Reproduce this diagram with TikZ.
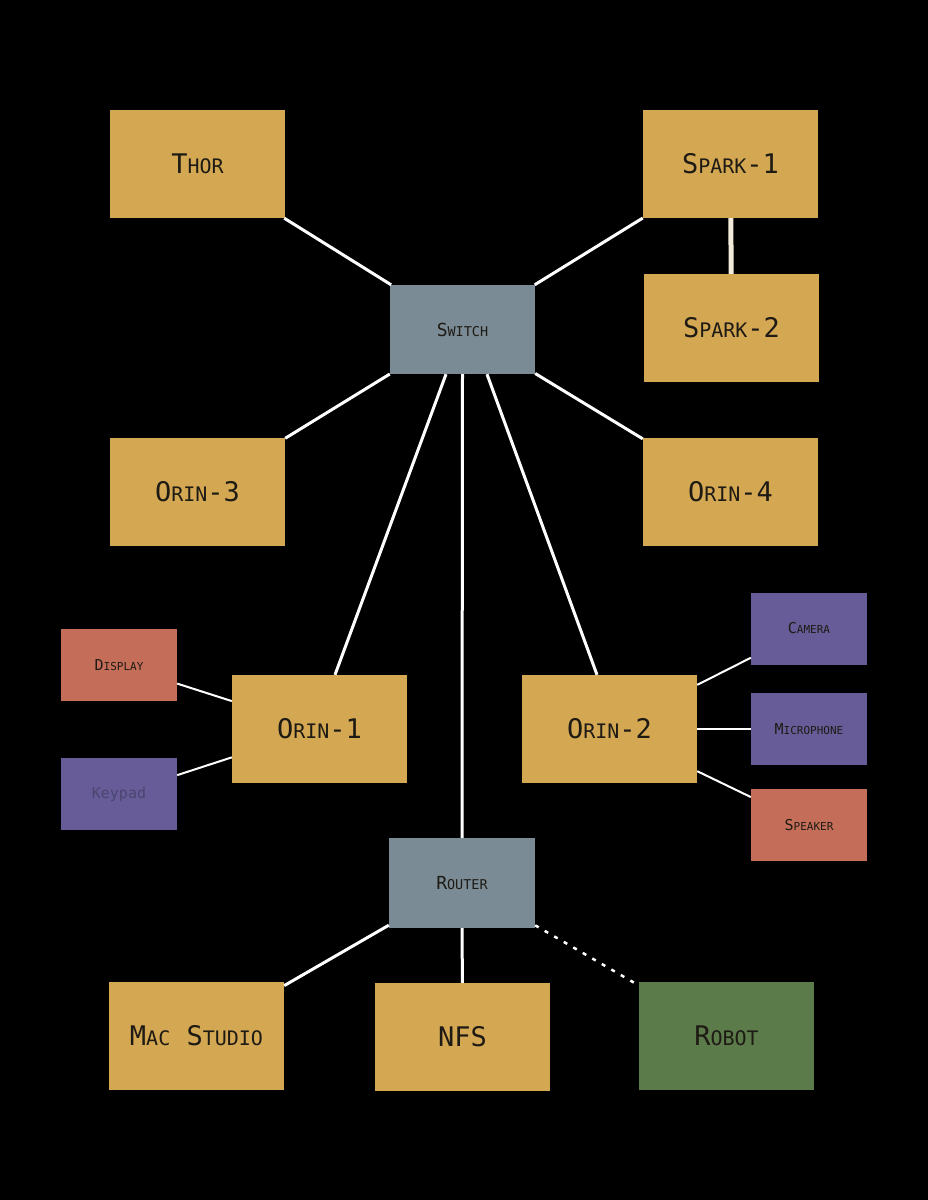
\documentclass[tikz,border=0pt]{standalone}
\usepackage{fontspec}
\setmonofont{DejaVu Sans Mono}
\usetikzlibrary{calc}
\definecolor{gold}{HTML}{D4A853}
\definecolor{slate}{HTML}{7A8B95}
\definecolor{brick}{HTML}{C46E5A}
\definecolor{violet}{HTML}{675C97}
\definecolor{moss}{HTML}{5B7B4A}
\definecolor{ink}{HTML}{1E1A14}
\definecolor{dimink}{HTML}{4A4672}
\definecolor{cream}{HTML}{F2EADA}
\newcommand\capA[1]{{\fontsize{27}{27}\selectfont #1}}
\newcommand\scA[1]{{\fontsize{20}{20}\selectfont #1}}
\newcommand\capB[1]{{\fontsize{18}{18}\selectfont #1}}
\newcommand\scB[1]{{\fontsize{13.5}{13.5}\selectfont #1}}
\newcommand\capC[1]{{\fontsize{15}{15}\selectfont #1}}
\newcommand\scC[1]{{\fontsize{11}{11}\selectfont #1}}
\tikzset{
  box/.style={rectangle, inner sep=0pt, font=\ttfamily, text=ink},
  bigbox/.style={box, fill=gold, minimum width=175pt, minimum height=108pt},
  hubbox/.style={box, fill=slate, minimum width=145pt, minimum height=89pt},
  devbox/.style={box, minimum width=116pt, minimum height=72pt},
  link/.style={draw=white, line width=3pt},
  thinlink/.style={draw=white, line width=2pt},
}
\begin{document}
\begin{tikzpicture}[x=1pt,y=-1pt]
\fill[black] (0,0) rectangle (928,1200);
\useasboundingbox (0,0) rectangle (928,1200);

\node[bigbox] (thor) at (197.5,164) {\capA{T}\scA{HOR}};
\node[bigbox] (spark1) at (730.5,164) {\capA{S}\scA{PARK}\capA{-1}};
\node[bigbox] (spark2) at (731.5,328) {\capA{S}\scA{PARK}\capA{-2}};
\node[hubbox] (switch) at (462.5,329.5) {\capB{S}\scB{WITCH}};
\node[bigbox] (orin3) at (197.5,492) {\capA{O}\scA{RIN}\capA{-3}};
\node[bigbox] (orin4) at (730.5,492) {\capA{O}\scA{RIN}\capA{-4}};
\node[devbox, fill=brick] (display) at (119,665) {\capC{D}\scC{ISPLAY}};
\node[devbox, fill=violet, text=dimink] (keypad) at (119,794) {\fontsize{15}{15}\selectfont Keypad};
\node[bigbox] (orin1) at (319.5,729) {\capA{O}\scA{RIN}\capA{-1}};
\node[bigbox] (orin2) at (609.5,729) {\capA{O}\scA{RIN}\capA{-2}};
\node[devbox, fill=violet] (camera) at (809,628.5) {\capC{C}\scC{AMERA}};
\node[devbox, fill=violet] (mic) at (809,729) {\capC{M}\scC{ICROPHONE}};
\node[devbox, fill=brick] (speaker) at (809,825) {\capC{S}\scC{PEAKER}};
\node[hubbox, minimum width=146pt, minimum height=90pt] (router) at (462,883) {\capB{R}\scB{OUTER}};
\node[bigbox] (mac) at (196.5,1036) {\capA{M}\scA{AC}\capA{ }\capA{S}\scA{TUDIO}};
\node[bigbox] (nfs) at (462.5,1037) {\capA{NFS}};
\node[bigbox, fill=moss] (robot) at (726.5,1036) {\capA{R}\scA{OBOT}};

\draw[link] (thor) -- (switch);
\draw[link] (spark1) -- (switch);
\draw[link] (orin3) -- (switch);
\draw[link] (orin4) -- (switch);
\draw[link] ($(switch.south)+(-16.5,0)$) -- ($(orin1.north)+(15.5,0)$);
\draw[link] ($(switch.south)+(24.5,0)$) -- ($(orin2.north)+(-12.5,0)$);
\draw[link] (switch.south) -- (router.north);
\draw[draw=cream, line width=5pt] (spark1) -- (spark2);
\draw[thinlink] (display) -- (orin1);
\draw[thinlink] (keypad) -- (orin1);
\draw[thinlink] (orin2) -- (camera);
\draw[thinlink] (orin2) -- (mic);
\draw[thinlink] (orin2) -- (speaker);
\draw[link] (router) -- (mac);
\draw[link] (router) -- (nfs);
\draw[draw=white, line width=2.5pt, dash pattern=on 4pt off 7pt] (router) -- (robot);
\end{tikzpicture}
\end{document}
